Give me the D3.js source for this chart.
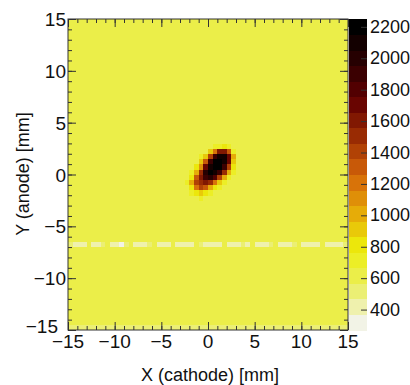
<!DOCTYPE html>
<html>
<head>
<meta charset="utf-8">
<script src="https://cdn.jsdelivr.net/npm/d3@7"></script>
<style>
  body { margin: 0; background: #fff; }
  text { font-family: "Liberation Sans", Arial, sans-serif; fill: #111; }
  .axis path { display: none; }
  .axis line { stroke: #333; stroke-width: 1; }
</style>
</head>
<body>
<div id="chart"></div>
<script>
// histogram binning: 60 x 60 bins of 0.5 mm over [-15, 15] mm
const xRange = [-15, 15];
const yRange = [-15, 15];
const nBins = 60;
const zRange = [270, 2250];
const nLevels = 20;

const majorTicks = [-15, -10, -5, 0, 5, 10, 15];
const zTicks = [400, 600, 800, 1000, 1200, 1400, 1600, 1800, 2000, 2200];

// flat background level
const background = 640;

// bright row at Y = -6.75 mm (bin centre), one value per X bin
const lineRowY = -6.75;
const lineRowValues = [560, 420, 380, 460, 610, 390, 370, 480, 640, 410, 380, 360, 470, 600, 390, 410, 370, 480, 620, 400,
  380, 410, 650, 390, 460, 380, 400, 610, 480, 390, 380, 450, 400, 620, 410, 380, 370, 480, 400, 640,
  390, 410, 380, 470, 600, 400, 370, 390, 480, 620, 410, 380, 400, 390, 610, 460, 380, 400, 410, 560];

// pale bottom row at Y = -14.75 mm
const bottomRowY = -14.75;
const bottomRowValues = [520, 500, 540, 480, 510, 530, 490, 520, 550, 500, 480, 510, 540, 520, 490, 500, 530, 510, 480, 520,
  540, 500, 510, 490, 530, 520, 500, 480, 510, 540, 520, 490, 500, 530, 510, 520, 480, 540, 500, 510,
  490, 520, 530, 500, 480, 510, 540, 520, 490, 500, 530, 510, 480, 520, 540, 500, 510, 490, 520, 530];

// beam spot, bin centres
const blobX = [-2.25, -1.75, -1.25, -0.75, -0.25, 0.25, 0.75, 1.25, 1.75, 2.25, 2.75, 3.25];
const blobY = [2.75, 2.25, 1.75, 1.25, 0.75, 0.25, -0.25, -0.75, -1.25, -1.75, -2.25];
const blobValues = [
  [640, 640, 640, 640, 640, 640, 680, 760, 800, 720, 640, 640],
  [640, 640, 640, 640, 660, 900, 1200, 1600, 1650, 1300, 760, 640],
  [640, 640, 640, 680, 900, 1400, 1950, 2150, 2100, 1700, 1000, 660],
  [640, 640, 660, 900, 1300, 1900, 2200, 2250, 2150, 1700, 900, 640],
  [640, 660, 850, 1100, 1700, 2100, 2250, 2200, 1950, 1400, 850, 640],
  [640, 700, 1000, 1500, 2000, 2200, 2150, 1900, 1500, 1000, 680, 640],
  [660, 850, 1300, 1650, 1900, 2000, 1800, 1450, 1000, 720, 640, 640],
  [680, 1000, 1400, 1550, 1600, 1500, 1200, 950, 720, 640, 640, 640],
  [650, 850, 1250, 1400, 1300, 1050, 820, 680, 640, 640, 640, 640],
  [640, 700, 850, 950, 850, 740, 660, 640, 640, 640, 640, 640],
  [640, 640, 660, 700, 660, 640, 640, 640, 640, 640, 640, 640]
];

// ROOT kDarkBodyRadiator, inverted
const palStops = [0, 0.125, 0.25, 0.375, 0.5, 0.625, 0.75, 0.875, 1];
const palColors = ["rgb(242,243,230)", "rgb(234,238,95)", "rgb(237,238,11)", "rgb(230,168,8)", "rgb(212,101,9)",
  "rgb(156,45,3)", "rgb(99,0,1)", "rgb(45,0,1)", "rgb(0,0,0)"];

let total_width = 410, total_height = 385;
let frame = {left: 68, right: 348, top: 19, bottom: 330};
let pal = {left: 349, right: 367};

var svg = d3.select("#chart").append("svg")
    .attr("width", total_width)
    .attr("height", total_height);

var x = d3.scaleLinear().domain(xRange).range([frame.left, frame.right]);
var y = d3.scaleLinear().domain(yRange).range([frame.bottom, frame.top]);
var z = d3.scaleLinear().domain(zRange).range([frame.bottom, frame.top]);
var palette = d3.scaleLinear().domain(palStops).range(palColors).interpolate(d3.interpolateRgb);

function levelOf(v){
  let k = Math.floor((v - zRange[0]) / (zRange[1] - zRange[0]) * nLevels);
  return Math.max(0, Math.min(nLevels - 1, k));
}
function levelColor(k){ return palette(k / (nLevels - 1)); }

// build the cell list
let binW = (xRange[1] - xRange[0]) / nBins;
let cells = [];
d3.range(nBins).forEach(iy => {
  d3.range(nBins).forEach(ix => {
    let cx = xRange[0] + (ix + 0.5) * binW;
    let cy = yRange[0] + (iy + 0.5) * binW;
    let v = background;
    if (cy === lineRowY) v = lineRowValues[ix];
    if (cy === bottomRowY) v = bottomRowValues[ix];
    let bi = blobX.indexOf(cx), bj = blobY.indexOf(cy);
    if (bi >= 0 && bj >= 0) v = blobValues[bj][bi];
    cells.push({x: cx, y: cy, v: v});
  });
});

svg.append("g").selectAll("rect").data(cells).enter().append("rect")
  .attr("x", d => x(d.x - binW / 2))
  .attr("y", d => y(d.y + binW / 2))
  .attr("width", d => x(d.x + binW / 2) - x(d.x - binW / 2) + 0.3)
  .attr("height", d => y(d.y - binW / 2) - y(d.y + binW / 2) + 0.3)
  .attr("fill", d => levelColor(levelOf(d.v)))
  .attr("shape-rendering", "crispEdges");

// axes: ticks on all four sides pointing inward
let minorTicks = d3.range(-15, 16, 1);
function addAxis(axisFn, scale, transform, values, size){
  let a = axisFn(scale).tickValues(values).tickSize(size).tickSizeOuter(0).tickFormat("");
  return svg.append("g").attr("class", "axis").attr("transform", transform).call(a);
}
addAxis(d3.axisTop, x, "translate(0," + frame.bottom + ")", minorTicks, 4);
addAxis(d3.axisTop, x, "translate(0," + frame.bottom + ")", majorTicks, 8);
addAxis(d3.axisBottom, x, "translate(0," + frame.top + ")", minorTicks, 4);
addAxis(d3.axisBottom, x, "translate(0," + frame.top + ")", majorTicks, 8);
addAxis(d3.axisRight, y, "translate(" + frame.left + ",0)", minorTicks, 4);
addAxis(d3.axisRight, y, "translate(" + frame.left + ",0)", majorTicks, 8);
addAxis(d3.axisLeft, y, "translate(" + frame.right + ",0)", minorTicks, 4);
addAxis(d3.axisLeft, y, "translate(" + frame.right + ",0)", majorTicks, 8);

// tick labels
svg.append("g").selectAll("text").data(majorTicks).enter().append("text")
  .attr("x", d => x(d)).attr("y", frame.bottom + 18)
  .attr("text-anchor", "middle").style("font-size", "19px")
  .text(d => d3.format("d")(d));
// the lowest Y label sits up and to the left, as ROOT draws it
svg.append("g").selectAll("text").data(majorTicks).enter().append("text")
  .attr("x", d => d === yRange[0] ? frame.left - 10 : frame.left - 2)
  .attr("y", d => d === yRange[0] ? y(d) + 3 : y(d) + 7)
  .attr("text-anchor", "end").style("font-size", "19px")
  .text(d => d3.format("d")(d));

svg.append("rect")
  .attr("x", frame.left).attr("y", frame.top)
  .attr("width", frame.right - frame.left).attr("height", frame.bottom - frame.top)
  .attr("fill", "none").attr("stroke", "#333").attr("stroke-width", 1);

// palette
let levels = d3.range(nLevels);
let levelStep = (zRange[1] - zRange[0]) / nLevels;
svg.append("g").selectAll("rect").data(levels).enter().append("rect")
  .attr("x", pal.left).attr("width", pal.right - pal.left)
  .attr("y", k => z(zRange[0] + (k + 1) * levelStep))
  .attr("height", k => z(zRange[0] + k * levelStep) - z(zRange[0] + (k + 1) * levelStep) + 0.5)
  .attr("fill", k => levelColor(k))
  .attr("shape-rendering", "crispEdges");

svg.append("g").attr("class", "axis")
  .attr("transform", "translate(" + pal.right + ",0)")
  .call(d3.axisLeft(z).tickValues(zTicks).tickSize(6).tickSizeOuter(0).tickFormat(""));
svg.append("g").selectAll("text").data(zTicks).enter().append("text")
  .attr("x", pal.right + 3).attr("y", d => z(d) + 6)
  .style("font-size", "18px")
  .text(d => d);

// titles
svg.append("text")
  .attr("x", (frame.left + frame.right) / 2 + 2).attr("y", 381)
  .attr("text-anchor", "middle").style("font-size", "18px")
  .text("X (cathode) [mm]");
svg.append("text")
  .attr("transform", "translate(29," + 174 + ") rotate(-90)")
  .attr("text-anchor", "middle").style("font-size", "18px")
  .text("Y (anode) [mm]");
</script>
</body>
</html>
